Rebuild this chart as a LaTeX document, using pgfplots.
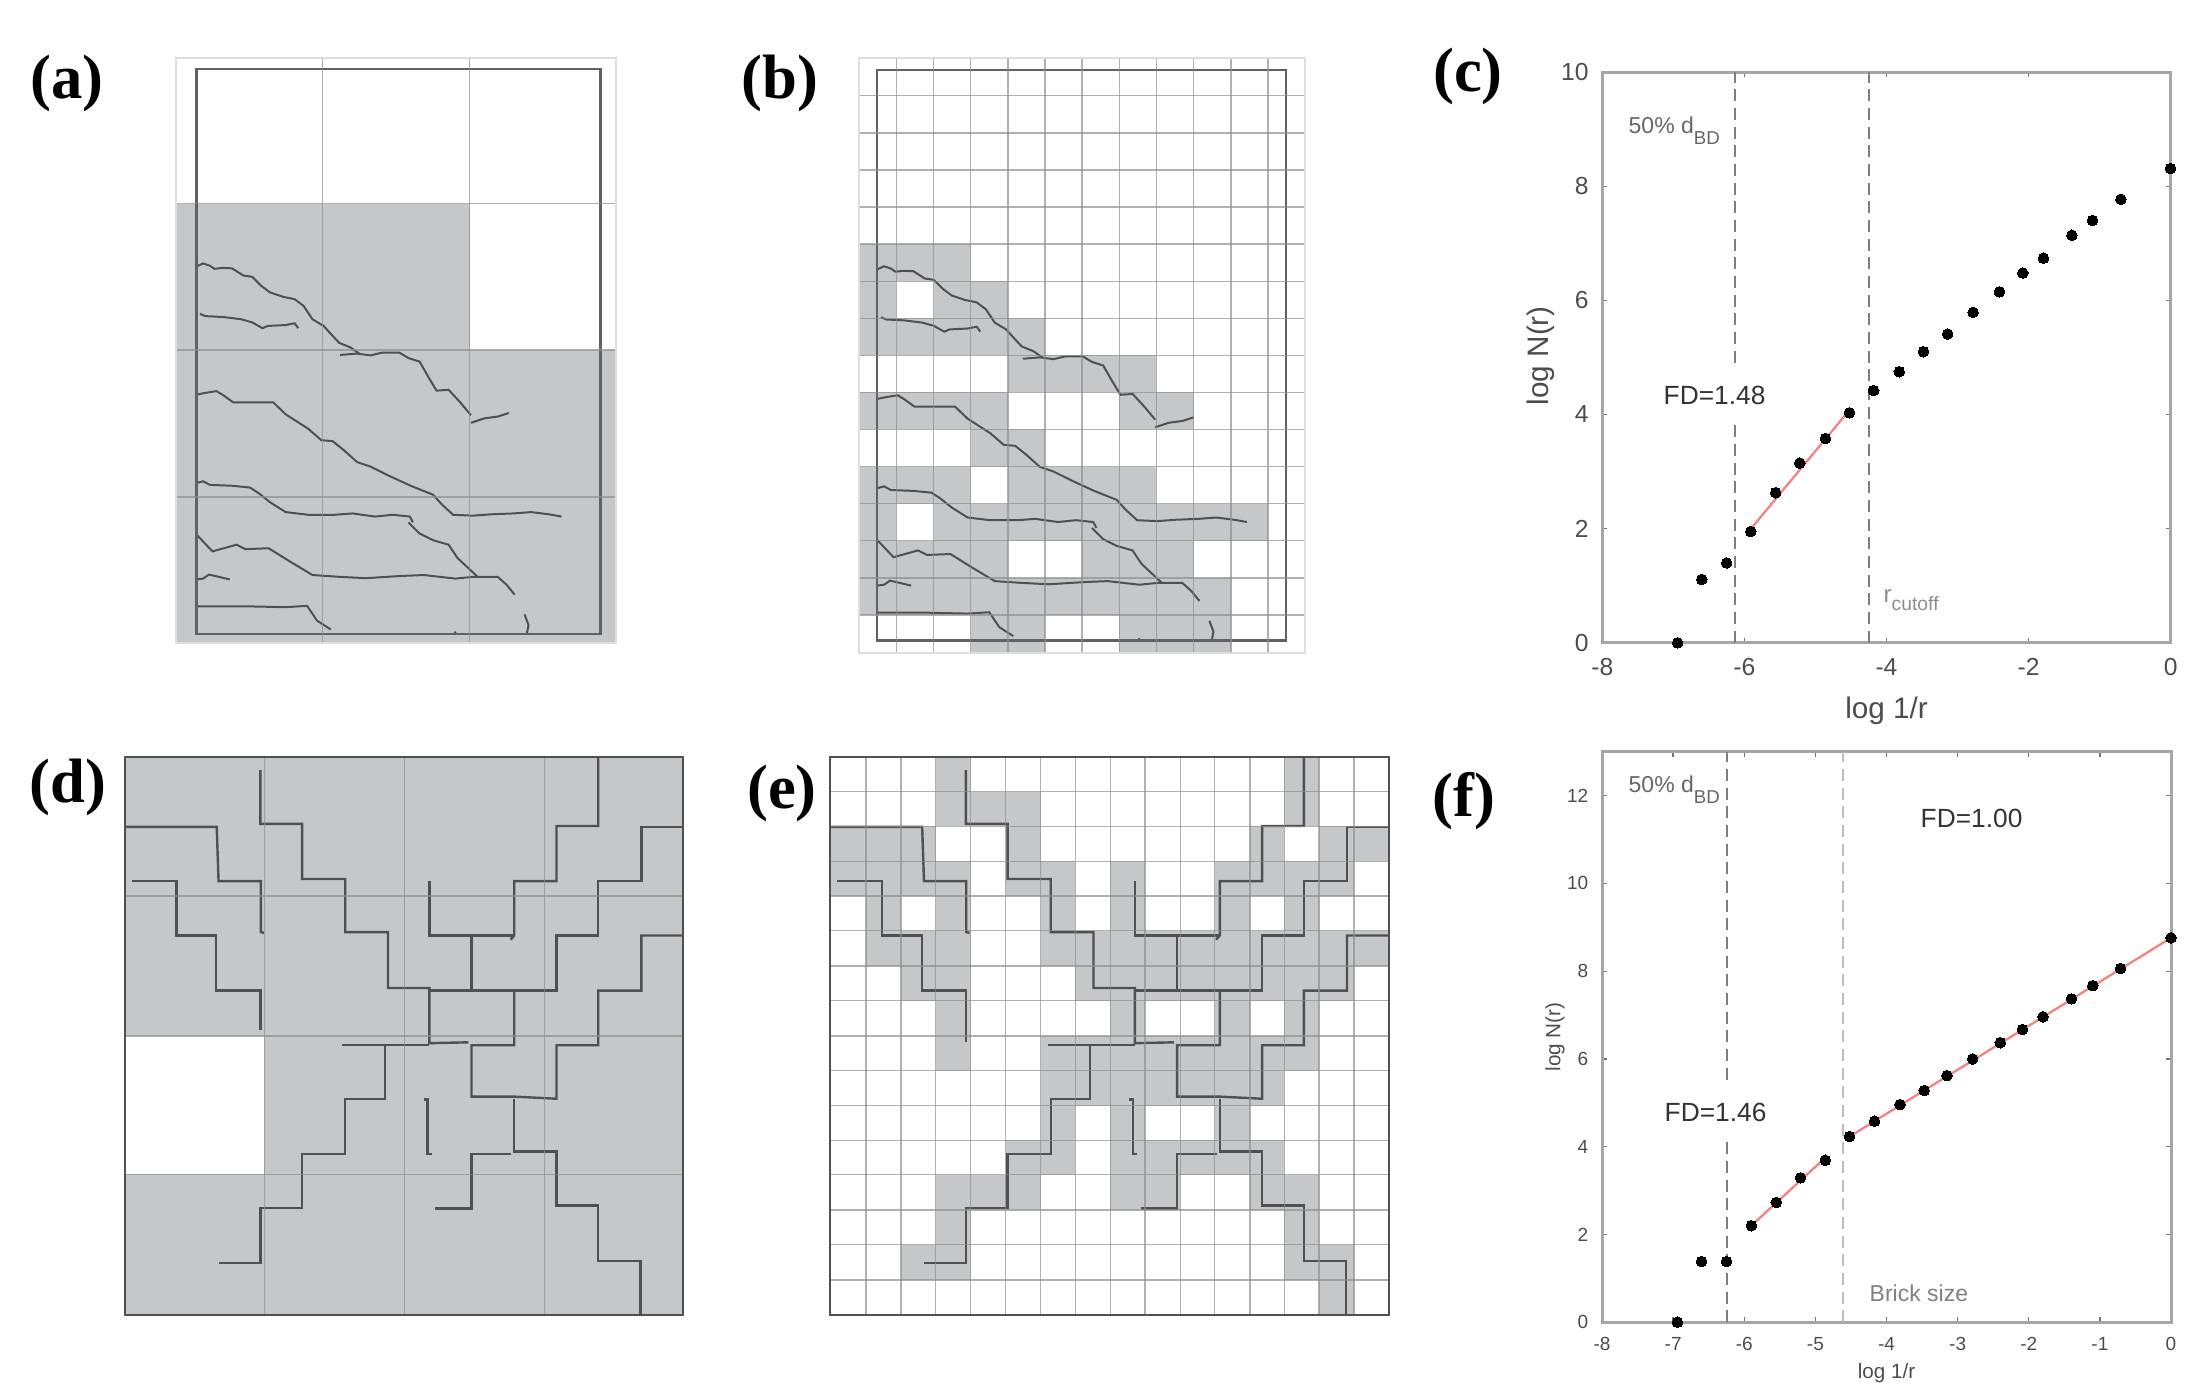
\documentclass[border=0pt]{standalone}
\usepackage{fontspec}
\usepackage{pgfplots}
\pgfplotsset{compat=1.18}
\setmainfont{Liberation Sans}
\newfontfamily\ser{Liberation Serif}
\definecolor{cellg}{HTML}{C6C7C9}
\definecolor{gridc}{HTML}{8E8F92}
\definecolor{framec}{HTML}{DEDEDF}
\definecolor{crk}{HTML}{505052}
\definecolor{axc}{HTML}{A6A6A6}
\definecolor{tickc}{HTML}{4C4C4C}
\definecolor{dashc}{HTML}{7E7E7E}
\definecolor{dashl}{HTML}{BDBDBD}
\definecolor{redl}{HTML}{F28484}
\newcommand\fs[1]{\fontsize{#1pt}{#1pt}\selectfont}
\def\U{0.3pt}
\newcommand\T[4]{\pgfmathsetmacro\yy{(1385-#2)*0.3}\node[#3] at (#1*0.3pt,\yy pt) {#4};}
\newcommand\cell[4]{\addplot[draw=none,fill=cellg,forget plot] coordinates {(#1,#3)(#2,#3)(#2,#4)(#1,#4)} --cycle;}
\newcommand\crk[1]{\addplot[crack,forget plot] coordinates {#1};}
\newcommand\dbd{50\% d\raisebox{-3.3pt}{\fs{5.6}BD}}
\pgfplotsset{
  crack/.style={draw=crk,line width=0.6pt,no markers},
  inner/.style={draw=crk!90!white,line width=0.7pt,no markers,forget plot},
  panel/.style={scale only axis,clip=false,axis on top,y dir=reverse,enlargelimits=false,
    xticklabels={},yticklabels={},grid=major,major tick length=0pt,
    major grid style={draw=gridc,line width=0.42pt,opacity=0.7},
    axis line style={draw=framec,line width=0.6pt}},
  plotp/.style={scale only axis,clip=false,enlargelimits=false,xmin=-8,xmax=0,ymin=0,
    tick align=inside,major tick length=1.5pt,tick style={draw=axc!70!black,line width=0.4pt},
    axis line style={draw=axc,line width=0.9pt}},
  dots/.style={only marks,mark=*,mark size=1.6pt,mark options={fill=black,draw=black,line width=0pt},forget plot},
  redfit/.style={draw=redl,line width=0.7pt,no markers,forget plot},
  dashd/.style={draw=dashc,line width=0.5pt,dash pattern=on 3.6pt off 2pt,no markers,forget plot},
  dashlight/.style={draw=dashl,line width=0.6pt,dash pattern=on 3.6pt off 2pt,no markers,forget plot}
}
% cracks of panels (a) and (b), in the coordinates of panel (a)
\newcommand\cracksAB{%
\crk{(440,597)(455,590)(470,595)(480,602)(500,600)(520,601)(545,617)(565,620)(585,640)(605,655)(635,665)(660,670)(680,685)(700,715)(725,730)(745,752)(760,768)(785,778)(805,792)}
\crk{(762,795)(800,792)(830,796)(855,790)(895,790)(915,802)(940,810)(960,845)(978,875)(1005,873)(1030,900)(1055,930)}
\crk{(1055,947)(1085,937)(1115,933)(1140,925)}
\crk{(448,703)(460,708)(500,710)(540,715)(565,722)(588,735)(600,730)(640,728)(660,724)(668,735)}
\crk{(440,884)(460,880)(485,876)(500,885)(522,901)(570,901)(612,901)(640,928)(690,960)(720,986)(745,988)(770,1008)(800,1035)(830,1045)(870,1065)(920,1088)(970,1108)(990,1130)(1015,1153)(1060,1155)(1100,1152)(1150,1150)(1190,1147)(1230,1152)(1258,1157)}
\crk{(440,1082)(455,1078)(470,1086)(520,1088)(560,1092)(580,1105)(605,1125)(640,1147)(690,1153)(750,1153)(790,1150)(840,1157)(880,1153)(918,1157)(925,1170)}
\crk{(915,1170)(940,1195)(970,1210)(1005,1220)(1025,1250)(1070,1292)}
\crk{(440,1197)(476,1235)(530,1220)(550,1230)(602,1228)(650,1258)(700,1288)(760,1292)(820,1295)(900,1290)(950,1288)(1020,1296)(1060,1292)(1115,1292)(1135,1310)(1153,1332)}
\crk{(440,1298)(455,1296)(468,1287)(490,1292)(515,1298)}
\crk{(440,1358)(550,1358)(640,1360)(688,1357)(710,1390)(741,1410)}
\crk{(1175,1376)(1184,1400)(1180,1420)}
\crk{(1018,1415)(1022,1420)}
}
% cracks of panels (d) and (e), in the coordinates of panel (d)
\newcommand\cracksDE{%
\crk{(272,252)(472,252)(476,380)(568,380)(568,500)(575,502)}
\crk{(567,118)(567,245)(658,245)(658,375)(752,375)(752,500)(845,500)(845,632)(935,632)(935,762)(1020,760)}
\crk{(745,767)(935,767)}
\crk{(287,380)(384,380)(384,508)(471,508)(471,638)(567,638)(567,730)}
\crk{(1303,87)(1303,250)(1212,250)(1212,380)(1120,380)(1120,508)(1112,518)}
\crk{(935,380)(935,508)(1120,508)}
\crk{(1027,508)(1027,638)}
\crk{(935,638)(1212,638)(1212,508)(1303,508)(1303,380)(1397,380)(1397,252)(1488,252)}
\crk{(1120,638)(1120,767)(1027,767)(1027,888)(1120,888)(1212,893)(1212,767)(1303,767)(1303,638)(1397,638)(1397,508)(1488,508)}
\crk{(1120,893)(1120,1017)(1212,1017)(1212,1145)(1303,1145)(1303,1275)(1395,1275)(1395,1402)}
\crk{(1113,1023)(1027,1023)(1027,1152)(948,1152)}
\crk{(838,767)(838,893)(752,893)(752,1023)(658,1023)(658,1150)(567,1150)(567,1280)(477,1280)}
\crk{(923,895)(931,895)(931,1023)(940,1023)}
}
\begin{document}
\begin{tikzpicture}
\path[use as bounding box] (0,0) rectangle (656.1pt,415.5pt);
% ---------- (a)
\begin{axis}[panel,at={(176.3*\U,742.1*\U)},anchor=south west,width=439.7*\U,height=584.8*\U,
  xmin=395,xmax=1380,ymin=130,ymax=1440,xtick={723,1052},ytick={456,784,1113}]
\cell{395}{1052}{456}{784}
\cell{395}{1380}{784}{1440}
\cracksAB
\addplot[inner] coordinates {(440,155)(1345,155)(1345,1420)(440,1420)} --cycle;
\end{axis}
% ---------- (b)
\begin{axis}[panel,at={(859.4*\U,732.3*\U)},anchor=south west,width=445.5*\U,height=594.7*\U,
  xmin=357,xmax=1355,ymin=130,ymax=1462,
  xtick={440,523,606,690,773,856,939,1022,1106,1189,1272},
  ytick={214,298,381,464,547,630,713,796,879,962,1045,1128,1211,1295,1378},
  crack/.append style={x filter/.expression={397+(x-440)*1.0122},y filter/.expression={157+(y-155)*1.0103}}]
\cell{357}{606}{547}{630}
\cell{357}{440}{630}{713}\cell{523}{690}{630}{713}
\cell{357}{773}{713}{796}
\cell{690}{1022}{796}{879}
\cell{357}{690}{879}{962}\cell{939}{1106}{879}{962}
\cell{606}{773}{962}{1045}
\cell{357}{606}{1045}{1128}\cell{690}{1022}{1045}{1128}
\cell{357}{440}{1128}{1211}\cell{523}{1272}{1128}{1211}
\cell{357}{690}{1211}{1295}\cell{856}{1106}{1211}{1295}
\cell{357}{1189}{1295}{1378}
\cell{606}{773}{1378}{1462}\cell{939}{1189}{1378}{1462}
\cracksAB
\addplot[inner] coordinates {(397,157)(1313,157)(1313,1435)(397,1435)} --cycle;
\end{axis}
% ---------- (c)
\begin{axis}[plotp,at={(1602.3*\U,742.2*\U)},anchor=south west,width=568.3*\U,height=570.7*\U,
  ymax=10,xtick={-8,-6,-4,-2,0},xticklabels={-8,-6,-4,-2,0},ytick={0,2,4,6,8,10},yticklabels={0,2,4,6,8,10},
  tick label style={font=\fs{7.4},text=tickc},
  xticklabel style={yshift=-1.2pt},yticklabel style={xshift=-0.6pt},
  xlabel={log 1/r},ylabel={log N(r)},
  label style={font=\fs{8.9},text=tickc},
  x label style={at={(axis description cs:0.5,-0.119)},anchor=center},
  y label style={at={(axis description cs:-0.108,0.503)},anchor=center,rotate=0}]
\addplot[dashd] coordinates {(-6.13,0)(-6.13,10)};
\addplot[dashd] coordinates {(-4.25,0)(-4.25,10)};
\addplot[dots] table {
-6.94 0
-6.60 1.11
-6.25 1.40
-5.91 1.95
-5.56 2.63
-5.22 3.15
-4.86 3.58
-4.52 4.03
-4.18 4.42
-3.82 4.75
-3.48 5.10
-3.14 5.41
-2.78 5.79
-2.41 6.15
-2.08 6.48
-1.79 6.74
-1.39 7.14
-1.10 7.40
-0.70 7.77
0 8.31
};
\addplot[redfit] coordinates {(-5.90,2.01)(-4.54,4.05)};
\end{axis}
% ---------- (d)
\begin{axis}[panel,at={(124.9*\U,70.4*\U)},anchor=south west,width=558.3*\U,height=557.7*\U,
  xmin=272,xmax=1488,ymin=87,ymax=1402,xtick={576,881,1186},ytick={415,745,1071},
  axis line style={draw=crk,line width=0.6pt},crack/.append style={line width=0.72pt}]
\cell{272}{1488}{87}{745}
\cell{576}{1488}{745}{1071}
\cell{272}{1488}{1071}{1402}
\cracksDE
\end{axis}
% ---------- (e)
\begin{axis}[panel,at={(830.3*\U,70.4*\U)},anchor=south west,width=558.5*\U,height=557.7*\U,
  xmin=247,xmax=1498,ymin=87,ymax=1402,
  xtick={327,405,483,561,640,718,796,874,952,1031,1108,1187,1264,1342,1420},
  ytick={169,251,333,415,497,580,662,745,827,909,991,1072,1155,1237,1320},
  axis line style={draw=crk,line width=0.6pt},
  crack/.append style={line width=0.72pt,x filter/.expression={247+(x-272)*1.0288}}]
\cell{483}{561}{87}{169}\cell{1264}{1342}{87}{169}
\cell{483}{718}{169}{251}\cell{1264}{1342}{169}{251}
\cell{247}{483}{251}{333}\cell{640}{718}{251}{333}\cell{1187}{1264}{251}{333}\cell{1342}{1498}{251}{333}
\cell{247}{561}{333}{415}\cell{640}{796}{333}{415}\cell{874}{952}{333}{415}\cell{1108}{1420}{333}{415}
\cell{327}{405}{415}{497}\cell{483}{561}{415}{497}\cell{718}{796}{415}{497}\cell{874}{952}{415}{497}\cell{1108}{1187}{415}{497}\cell{1264}{1342}{415}{497}
\cell{327}{561}{497}{580}\cell{718}{1498}{497}{580}
\cell{405}{561}{580}{662}\cell{796}{1420}{580}{662}
\cell{483}{561}{662}{745}\cell{874}{952}{662}{745}\cell{1108}{1187}{662}{745}\cell{1264}{1342}{662}{745}
\cell{483}{561}{745}{827}\cell{718}{1342}{745}{827}
\cell{718}{1264}{827}{909}
\cell{718}{796}{909}{991}\cell{874}{952}{909}{991}\cell{1108}{1187}{909}{991}
\cell{640}{796}{991}{1072}\cell{874}{1264}{991}{1072}
\cell{483}{718}{1072}{1155}\cell{874}{1031}{1072}{1155}\cell{1187}{1342}{1072}{1155}
\cell{483}{561}{1155}{1237}\cell{1264}{1342}{1155}{1237}
\cell{405}{561}{1237}{1320}\cell{1264}{1420}{1237}{1320}
\cell{1342}{1420}{1320}{1402}
\cracksDE
\crk{(567,730)(567,760)}
\end{axis}
% ---------- (f)
\begin{axis}[plotp,at={(1602*\U,62.8*\U)},anchor=south west,width=569*\U,height=570.4*\U,
  ymax=13,xtick={-8,-7,-6,-5,-4,-3,-2,-1,0},xticklabels={-8,-7,-6,-5,-4,-3,-2,-1,0},
  ytick={0,2,4,6,8,10,12},yticklabels={0,2,4,6,8,10,12},
  tick label style={font=\fs{5.7},text=tickc},
  xticklabel style={yshift=-1.0pt},yticklabel style={xshift=-0.6pt},
  xlabel={log 1/r},ylabel={log N(r)},
  label style={font=\fs{6.2},text=tickc},
  x label style={at={(axis description cs:0.5,-0.0894)},anchor=center},
  y label style={at={(axis description cs:-0.0827,0.50)},anchor=center,rotate=0}]
\addplot[dashd] coordinates {(-6.24,0)(-6.24,13)};
\addplot[dashlight] coordinates {(-4.61,0)(-4.61,13)};
\addplot[dots] table {
-6.94 0
-6.60 1.38
-6.25 1.38
-5.90 2.20
-5.55 2.73
-5.21 3.29
-4.86 3.69
-4.52 4.23
-4.17 4.58
-3.81 4.96
-3.47 5.28
-3.15 5.62
-2.79 6.00
-2.40 6.37
-2.09 6.67
-1.80 6.96
-1.40 7.37
-1.10 7.67
-0.71 8.06
0 8.76
};
\addplot[redfit] coordinates {(-5.90,2.20)(-4.86,3.75)};
\addplot[redfit] coordinates {(-4.52,4.23)(0,8.76)};
\end{axis}
% ---------- texts
\T{67}{83}{font=\ser\bfseries\fs{18.8}}{(a)}
\T{780}{83}{font=\ser\bfseries\fs{18.8}}{(b)}
\T{1468}{76}{font=\ser\bfseries\fs{18.8}}{(c)}
\T{68}{787}{font=\ser\bfseries\fs{18.8}}{(d)}
\T{782}{793}{font=\ser\bfseries\fs{18.8}}{(e)}
\T{1464}{801}{font=\ser\bfseries\fs{18.8}}{(f)}
\T{1628}{131}{anchor=west,inner sep=0pt,font=\fs{6.9},text=black!60}{\dbd}
\T{1663}{395}{anchor=west,fill=white,inner xsep=0pt,inner ysep=0pt,minimum height=16.5pt,font=\fs{7.9},text=black!80}{FD=1.48}
\T{1883}{600}{anchor=west,inner sep=0pt,font=\fs{7.2},text=black!45}{r\raisebox{-2.6pt}{\fs{5.8}cutoff}}
\T{1628}{790}{anchor=west,inner sep=0pt,font=\fs{6.9},text=black!60}{\dbd}
\T{1920}{818}{anchor=west,inner sep=0pt,font=\fs{7.9},text=black!80}{FD=1.00}
\T{1664}{1112}{anchor=west,fill=white,inner xsep=0pt,inner ysep=0pt,minimum height=16.5pt,font=\fs{7.9},text=black!80}{FD=1.46}
\T{1869}{1293}{anchor=west,inner sep=0pt,font=\fs{6.9},text=black!50}{Brick size}
\end{tikzpicture}
\end{document}
